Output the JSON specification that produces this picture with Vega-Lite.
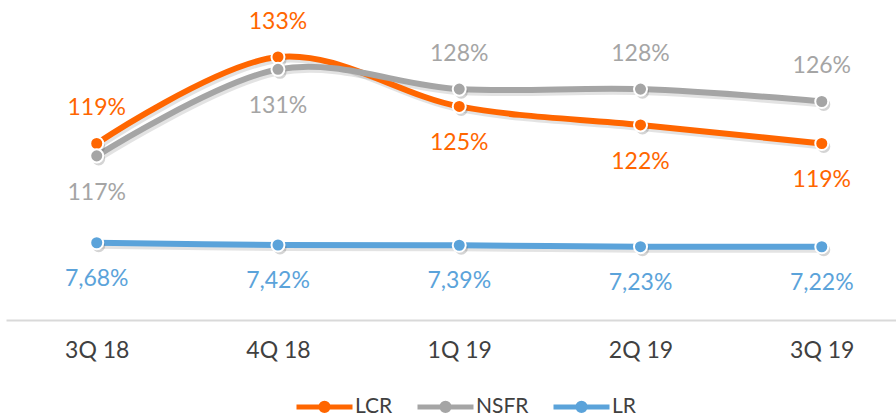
{
  "$schema": "https://vega.github.io/schema/vega-lite/v6.json",
  "width": 890,
  "height": 320,
  "autosize": {"type": "none"},
  "padding": {"left": 6, "top": 0, "right": 0, "bottom": 98},
  "config": {
    "view": {"stroke": null},
    "font": "Lato",
    "locale": {"number": {"decimal": ",", "thousands": ".", "grouping": [3], "currency": ["", " €"]}}
  },
  "data": {
    "values": [
      {"q": "3Q 18", "s": "LCR", "v": 1.19},
      {"q": "4Q 18", "s": "LCR", "v": 1.33},
      {"q": "1Q 19", "s": "LCR", "v": 1.25},
      {"q": "2Q 19", "s": "LCR", "v": 1.22},
      {"q": "3Q 19", "s": "LCR", "v": 1.19},
      {"q": "3Q 18", "s": "NSFR", "v": 1.17},
      {"q": "4Q 18", "s": "NSFR", "v": 1.31},
      {"q": "1Q 19", "s": "NSFR", "v": 1.278},
      {"q": "2Q 19", "s": "NSFR", "v": 1.278},
      {"q": "3Q 19", "s": "NSFR", "v": 1.258},
      {"q": "3Q 18", "s": "LR", "v": 0.0768},
      {"q": "4Q 18", "s": "LR", "v": 0.0742},
      {"q": "1Q 19", "s": "LR", "v": 0.0739},
      {"q": "2Q 19", "s": "LR", "v": 0.0723},
      {"q": "3Q 19", "s": "LR", "v": 0.0722}
    ]
  },
  "encoding": {
    "x": {
      "field": "q",
      "type": "ordinal",
      "sort": ["3Q 18", "4Q 18", "1Q 19", "2Q 19", "3Q 19"],
      "scale": {"type": "point", "padding": 0.455, "align": 0.55},
      "axis": {
        "title": null,
        "ticks": false,
        "domainColor": "#d9d9d9",
        "domainWidth": 2,
        "labelFont": "Lato",
        "labelFontSize": 23,
        "labelColor": "#404040",
        "labelPadding": 19,
        "labelAngle": 0,
        "grid": false
      }
    }
  },
  "layer": [
    {
      "transform": [{"filter": "datum.s != 'LR'"}],
      "encoding": {
        "y": {"field": "v", "type": "quantitative", "scale": {"domain": [0.9044, 1.4222]}, "axis": null}
      },
      "layer": [
        {
          "mark": {"type": "line", "interpolate": "cardinal", "strokeWidth": 6, "color": "#7f7f7f", "opacity": 0.22, "yOffset": 3, "xOffset": 1.5},
          "encoding": {"detail": {"field": "s"}}
        },
        {
          "mark": {"type": "line", "interpolate": "cardinal", "strokeWidth": 6},
          "encoding": {
            "color": {
              "field": "s", "type": "nominal",
              "scale": {"domain": ["LCR", "NSFR", "LR"], "range": ["#FF6600", "#A5A5A5", "#5BA3DA"]},
              "legend": {
                "orient": "none",
                "direction": "horizontal",
                "legendX": 288,
                "legendY": 376,
                "title": null,
                "symbolType": "M-1,0L1,0M-0.13,0A0.13,0.13,0,1,1,0.13,0A0.13,0.13,0,1,1,-0.13,0Z",
                "symbolSize": 3136,
                "symbolStrokeWidth": 5,
                "labelFont": "Lato",
                "labelFontSize": 21,
                "labelColor": "#404040",
                "labelOffset": 0,
                "columnPadding": 14,
                "encode": {
                  "symbols": {
                    "update": {
                      "fill": {"signal": "scale('color', datum.value)"},
                      "stroke": {"signal": "scale('color', datum.value)"},
                      "opacity": {"value": 1},
                      "fillOpacity": {"value": 1},
                      "strokeWidth": {"value": 5}
                    }
                  }
                }
              }
            }
          }
        },
        {
          "mark": {"type": "point", "filled": true, "size": 170, "color": "#555555", "opacity": 0.25, "yOffset": 3, "xOffset": 2}
        },
        {
          "mark": {"type": "point", "filled": true, "size": 170, "stroke": "white", "strokeWidth": 2, "opacity": 1},
          "encoding": {
            "color": {"field": "s", "type": "nominal", "scale": {"domain": ["LCR", "NSFR", "LR"], "range": ["#FF6600", "#A5A5A5", "#5BA3DA"]}, "legend": null}
          }
        },
        {
          "transform": [{"filter": "(datum.s == 'LCR' && (datum.q == '3Q 18' || datum.q == '4Q 18')) || (datum.s == 'NSFR' && datum.q != '3Q 18' && datum.q != '4Q 18')"}],
          "mark": {"type": "text", "font": "Lato", "fontSize": 23, "baseline": "middle", "dy": -35},
          "encoding": {
            "text": {"field": "v", "type": "quantitative", "format": ".0%"},
            "color": {"field": "s", "type": "nominal", "scale": {"domain": ["LCR", "NSFR", "LR"], "range": ["#FF6600", "#A5A5A5", "#5BA3DA"]}, "legend": null}
          }
        },
        {
          "transform": [{"filter": "(datum.s == 'NSFR' && (datum.q == '3Q 18' || datum.q == '4Q 18')) || (datum.s == 'LCR' && datum.q != '3Q 18' && datum.q != '4Q 18')"}],
          "mark": {"type": "text", "font": "Lato", "fontSize": 23, "baseline": "middle", "dy": 37},
          "encoding": {
            "text": {"field": "v", "type": "quantitative", "format": ".0%"},
            "color": {"field": "s", "type": "nominal", "scale": {"domain": ["LCR", "NSFR", "LR"], "range": ["#FF6600", "#A5A5A5", "#5BA3DA"]}, "legend": null}
          }
        }
      ]
    },
    {
      "transform": [{"filter": "datum.s == 'LR'"}],
      "encoding": {
        "y": {"field": "v", "type": "quantitative", "scale": {"domain": [-0.012, 0.3558]}, "axis": null}
      },
      "layer": [
        {
          "mark": {"type": "line", "interpolate": "cardinal", "strokeWidth": 6, "color": "#7f7f7f", "opacity": 0.22, "yOffset": 3, "xOffset": 1.5},
          "encoding": {"detail": {"field": "s"}}
        },
        {
          "mark": {"type": "line", "interpolate": "cardinal", "strokeWidth": 6},
          "encoding": {
            "color": {"field": "s", "type": "nominal", "scale": {"domain": ["LCR", "NSFR", "LR"], "range": ["#FF6600", "#A5A5A5", "#5BA3DA"]}, "legend": null}
          }
        },
        {
          "mark": {"type": "point", "filled": true, "size": 170, "color": "#555555", "opacity": 0.25, "yOffset": 3, "xOffset": 2}
        },
        {
          "mark": {"type": "point", "filled": true, "size": 170, "stroke": "white", "strokeWidth": 2, "opacity": 1},
          "encoding": {
            "color": {"field": "s", "type": "nominal", "scale": {"domain": ["LCR", "NSFR", "LR"], "range": ["#FF6600", "#A5A5A5", "#5BA3DA"]}, "legend": null}
          }
        },
        {
          "mark": {"type": "text", "font": "Lato", "fontSize": 23, "baseline": "middle", "dy": 36},
          "encoding": {
            "text": {"field": "v", "type": "quantitative", "format": ".2%"},
            "color": {"field": "s", "type": "nominal", "scale": {"domain": ["LCR", "NSFR", "LR"], "range": ["#FF6600", "#A5A5A5", "#5BA3DA"]}, "legend": null}
          }
        }
      ]
    }
  ],
  "resolve": {"scale": {"y": "independent"}}
}
